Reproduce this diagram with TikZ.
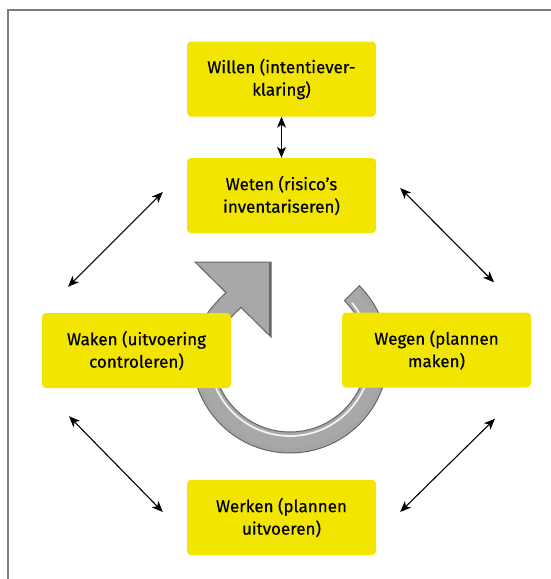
\documentclass[tikz,border=0pt]{standalone}
\usepackage{fontspec}
\setmainfont{Fira Sans}
\newfontfamily\boxfont{Fira Sans}[FakeBold=0.4]
\usetikzlibrary{arrows.meta,calc}
\definecolor{stepyellow}{RGB}{242,230,0}
\definecolor{ringgray}{RGB}{168,168,168}
\definecolor{ringdark}{RGB}{100,100,100}
\definecolor{framegray}{RGB}{125,125,125}

\begin{document}
\begin{tikzpicture}[x=1pt,y=-1pt,
  stepbox/.style={fill=stepyellow,rounded corners=4pt,minimum width=189pt,minimum height=75pt,
    inner sep=0pt,align=center,font=\boxfont\fontsize{17}{22.5}\selectfont},
  link/.style={{Stealth[length=11pt,width=9pt,inset=3pt]}-{Stealth[length=11pt,width=9pt,inset=3pt]},line width=1.1pt}]
\useasboundingbox (0,0) rectangle (551,579);
\draw[framegray,line width=1.5pt] (8,579) -- (8,10) -- (551,10);

% ring with arrowhead
\fill[ringgray,draw=ringdark,line width=1pt] ($(290,355)+(-45:98)$) arc[start angle=-45,end angle=180,radius=98]
  .. controls (192,328) and (211,307) .. (226,292.6) -- (195,262) -- (271,262) -- (271,337) -- (241,307.4)
  .. controls (229,319) and (213,334) .. (213,355) arc[start angle=180,end angle=-45,radius=77] -- cycle;
\draw[ringdark!60,line width=3pt,opacity=0.6] ($(290,355)+(-42:95)$) arc[start angle=-42,end angle=180,radius=95];
\draw[white,line width=1.8pt,opacity=0.85] ($(290,355)+(-40:81)$) arc[start angle=-40,end angle=180,radius=81];
\draw[ringdark,line width=2pt] (270,263) -- (270,336);

\node[stepbox] (willen) at (281.5,79) {Willen (intentiever-\\klaring)};
\node[stepbox] (weten) at (281.5,195.5) {Weten (risico’s\\inventariseren)};
\node[stepbox] (waken) at (136.5,350.5) {Waken (uitvoering\\controleren)};
\node[stepbox] (wegen) at (436.5,350) {Wegen (plannen\\maken)};
\node[stepbox] (werken) at (281.5,517.5) {Werken (plannen\\uitvoeren)};

\draw[link] (willen.south) -- (weten.north);
\draw[link] ($(weten.west)+(-24,-3.5)$) -- ($(waken.north)+(-68.5,-26)$);
\draw[link] ($(weten.east)+(24,-7.5)$) -- ($(wegen.north)+(57.5,-30)$);
\draw[link] ($(waken.south)+(-67.5,28)$) -- ($(werken.west)+(-24,-5.5)$);
\draw[link] ($(wegen.south)+(58.5,31)$) -- ($(werken.east)+(24,-5.5)$);

\end{tikzpicture}
\end{document}
